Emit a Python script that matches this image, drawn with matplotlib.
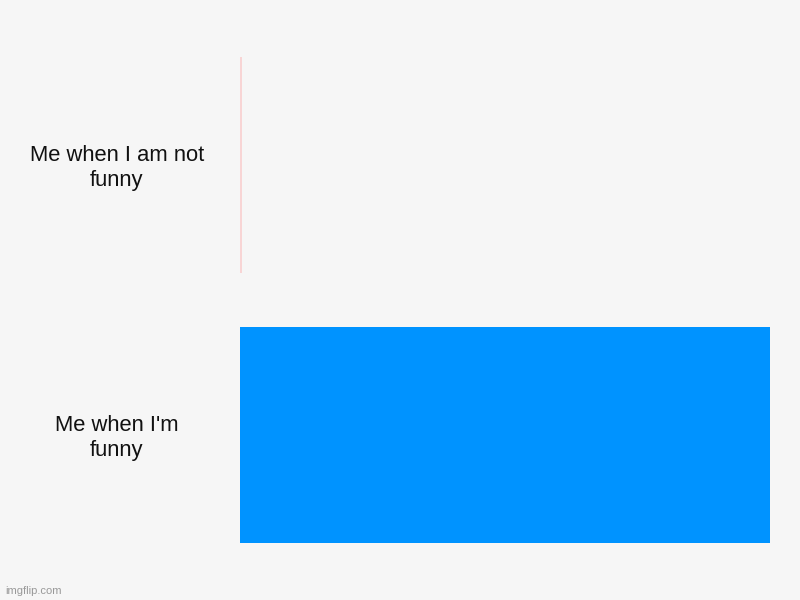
import matplotlib
matplotlib.use("Agg")
import matplotlib.pyplot as plt
import matplotlib.transforms as mtransforms

# data
labels = ["Me when I am not\nfunny", "Me when I'm\nfunny"]
values = [0.4, 100]
colors = ["#f8d5d5", "#0093ff"]

plt.rcParams["font.family"] = ["Liberation Sans", "DejaVu Sans"]

fig = plt.figure(figsize=(8, 6), dpi=100, facecolor="#f6f6f6")
ax = fig.add_axes([0.3, 0.05, 0.6625, 0.9008])
ax.set_facecolor("#f6f6f6")

ypos = list(range(len(labels)))
ax.barh(ypos, values, height=0.8, color=colors)
ax.set_xlim(0, 100)
ax.set_ylim(len(labels) - 0.5, -0.5)

# category labels, centered left of the bars
trans = mtransforms.blended_transform_factory(fig.transFigure, ax.transData)
for y, lab in zip(ypos, labels):
    ax.text(0.146, y + 0.012, lab, transform=trans, ha="center", va="center",
            fontsize=15.8, color="#111111", linespacing=1.25)

ax.set_xticks([])
ax.set_yticks([])
for s in ax.spines.values():
    s.set_visible(False)

fig.text(0.006, 0.006, "imgflip.com", fontsize=8, color="#999999", ha="left", va="bottom")

fig.savefig("out.png", dpi=100, facecolor=fig.get_facecolor())
